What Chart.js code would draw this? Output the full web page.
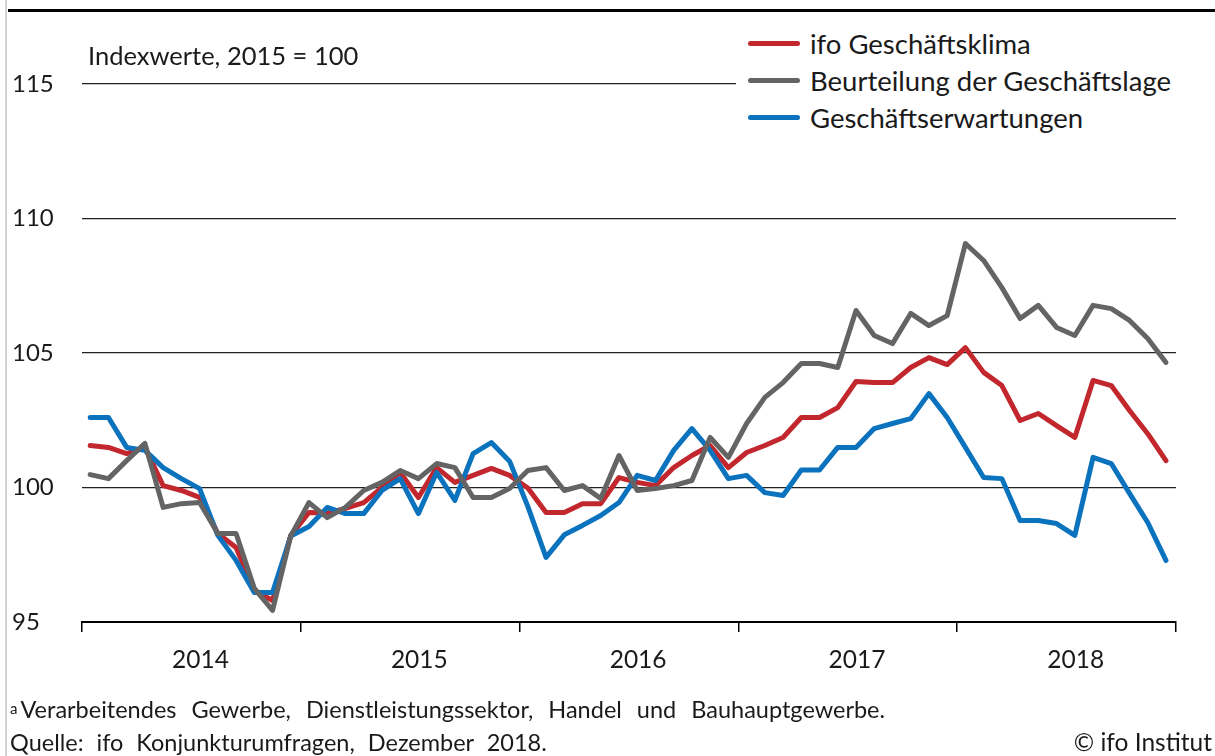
<!DOCTYPE html>
<html lang="de">
<head>
<meta charset="utf-8">
<script src="https://cdn.jsdelivr.net/npm/chart.js@4.4.0/dist/chart.umd.min.js"></script>
<style>
    html, body { margin: 0; padding: 0; background: #fff; }
    body { width: 1215px; height: 756px; position: relative; overflow: hidden; font-family: Lato, 'Open Sans', sans-serif; color: #1a1a1a; }
    #chart-wrap { position: absolute; left: 0; top: 0; width: 1215px; height: 756px; }
    .top-rule { position: absolute; left: 8px; top: 9px; width: 1207px; height: 3px; background: #000; }
    .left-rule { position: absolute; left: 5px; top: 0; width: 2px; height: 756px; background: #d4d4d4; }
    .subtitle { position: absolute; left: 88px; top: 40px; font-size: 25.5px; }
    .legend { position: absolute; left: 736px; top: 26px; width: 479px; height: 110px; background: #fff; }
    .legend-row { position: absolute; left: 12px; height: 32px; display: flex; align-items: center; font-size: 27.5px; white-space: nowrap; }
    .legend-row .swatch { width: 52px; height: 5px; border-radius: 3px; margin-right: 10px; }
    .note { position: absolute; left: 10px; font-size: 23.5px; line-height: 28px; word-spacing: 9px; white-space: nowrap; }
    .copy { position: absolute; right: 3px; top: 727px; font-size: 24.5px; line-height: 30px; }
</style>
</head>
<body>
<div class="left-rule"></div>
<div id="chart-wrap"><canvas id="ifoChart" width="1215" height="756"></canvas></div>
<div class="top-rule"></div>
<div class="subtitle">Indexwerte, 2015 = 100</div>
<div class="legend" id="legend"></div>
<div class="note" style="top:694px;"><span style="font-size:15px; vertical-align:4px; margin-right:3px;">a</span>Verarbeitendes Gewerbe, Dienstleistungssektor, Handel und Bauhauptgewerbe.</div>
<div class="note" style="top:728px; word-spacing:7px;">Quelle: ifo Konjunkturumfragen, Dezember 2018.</div>
<div class="copy">© ifo Institut</div>

<script>
// Monthly values Jan 2014 - Dec 2018
const years = ['2014', '2015', '2016', '2017', '2018'];

const klima = [
    101.56, 101.49, 101.26, 101.49, 100.07, 99.89, 99.63, 98.29, 97.77, 96.17, 95.80, 98.22,
    99.07, 99.05, 99.22, 99.44, 100.00, 100.56, 99.63, 100.74, 100.19, 100.45, 100.71, 100.45,
    99.98, 99.07, 99.07, 99.40, 99.40, 100.37, 100.19, 100.07, 100.74, 101.19, 101.56, 100.74,
    101.30, 101.56, 101.86, 102.60, 102.60, 102.97, 103.94, 103.90, 103.90, 104.46, 104.83, 104.57,
    105.20, 104.28, 103.79, 102.49, 102.75, 102.30, 101.86, 103.98, 103.79, 102.86, 102.00, 101.00
];

const lage = [
    100.48, 100.33, 101.00, 101.64, 99.26, 99.40, 99.44, 98.29, 98.29, 96.25, 95.43, 98.20,
    99.44, 98.88, 99.26, 99.89, 100.19, 100.63, 100.33, 100.89, 100.74, 99.63, 99.63, 99.96,
    100.63, 100.74, 99.89, 100.07, 99.59, 101.19, 99.89, 99.96, 100.07, 100.26, 101.86, 101.12,
    102.38, 103.35, 103.90, 104.61, 104.61, 104.46, 106.58, 105.65, 105.35, 106.47, 106.02, 106.39,
    109.07, 108.44, 107.43, 106.28, 106.77, 105.95, 105.65, 106.77, 106.65, 106.21, 105.54, 104.65
];

const erwartungen = [
    102.60, 102.60, 101.49, 101.38, 100.74, 100.33, 99.96, 98.22, 97.29, 96.10, 96.10, 98.20,
    98.55, 99.26, 99.03, 99.03, 99.89, 100.33, 99.03, 100.56, 99.52, 101.26, 101.67, 100.98,
    99.30, 97.40, 98.24, 98.59, 98.96, 99.44, 100.45, 100.26, 101.38, 102.19, 101.38, 100.33,
    100.45, 99.81, 99.70, 100.65, 100.65, 101.49, 101.49, 102.19, 102.38, 102.56, 103.49, 102.60,
    101.49, 100.37, 100.33, 98.77, 98.77, 98.66, 98.22, 101.12, 100.89, 99.78, 98.70, 97.29
];

const yTicks = [95, 100, 105, 110, 115];

const series = [
    { label: 'ifo Geschäftsklima', values: klima, color: '#c1272d' },
    { label: 'Beurteilung der Geschäftslage', values: lage, color: '#646464' },
    { label: 'Geschäftserwartungen', values: erwartungen, color: '#0b72bd' }
];

// month i sits in the middle of its slot on a 0..60 linear axis
const toPoints = vals => vals.map((v, i) => ({ x: i + 0.45, y: v }));

document.addEventListener('DOMContentLoaded', () => {
    // HTML legend
    const legend = document.getElementById('legend');
    series.forEach((s, i) => {
        const row = document.createElement('div');
        row.className = 'legend-row';
        row.style.top = (1 + i * 37) + 'px';
        row.innerHTML = `<span class="swatch" style="background:${s.color}"></span><span>${s.label}</span>`;
        legend.appendChild(row);
    });

    const ctx = document.getElementById('ifoChart').getContext('2d');
    new Chart(ctx, {
        type: 'line',
        data: {
            // draw the grey one first so red and blue sit on top
            datasets: [series[1], series[2], series[0]].map(s => ({
                label: s.label,
                data: toPoints(s.values),
                borderColor: s.color,
                backgroundColor: s.color,
                borderWidth: 5,
                pointRadius: 0,
                tension: 0,
                borderJoinStyle: 'round',
                borderCapStyle: 'round'
            }))
        },
        options: {
            responsive: false,
            animation: false,
            layout: { padding: { top: 84, left: 12, right: 39, bottom: 0 } },
            plugins: {
                legend: { display: false },
                tooltip: { enabled: false }
            },
            scales: {
                x: {
                    type: 'linear',
                    min: 0,
                    max: 60,
                    afterFit: scale => { scale.height = 134; },
                    afterBuildTicks: scale => {
                        // year boundaries get tick marks, year labels sit mid-year
                        const t = [];
                        for (let k = 0; k <= 5; k++) {
                            t.push({ value: k * 12 });
                            if (k < 5) t.push({ value: k * 12 + 6.5 });
                        }
                        scale.ticks = t;
                    },
                    border: { display: true, color: '#000', width: 2 },
                    grid: {
                        drawOnChartArea: false,
                        drawTicks: true,
                        tickLength: 10,
                        lineWidth: 1.5,
                        color: c => (c.tick && c.tick.value % 12 === 0) ? '#000' : 'rgba(0,0,0,0)'
                    },
                    ticks: {
                        autoSkip: false,
                        maxRotation: 0,
                        padding: 13,
                        color: '#1a1a1a',
                        font: { family: 'Lato', size: 24.5 },
                        callback: v => (v % 12 === 6.5) ? years[Math.floor(v / 12)] : ''
                    }
                },
                y: {
                    min: 95,
                    max: 115,
                    afterFit: scale => { scale.width = 70; },
                    afterBuildTicks: scale => { scale.ticks = yTicks.map(v => ({ value: v })); },
                    border: { display: false },
                    grid: {
                        drawTicks: false,
                        color: c => c.tick.value === 95 ? 'rgba(0,0,0,0)' : '#222',
                        lineWidth: 1.2
                    },
                    ticks: {
                        crossAlign: 'far',
                        padding: 0,
                        color: '#1a1a1a',
                        font: { family: 'Lato', size: 24 }
                    }
                }
            }
        }
    });
});
</script>
</body>
</html>
